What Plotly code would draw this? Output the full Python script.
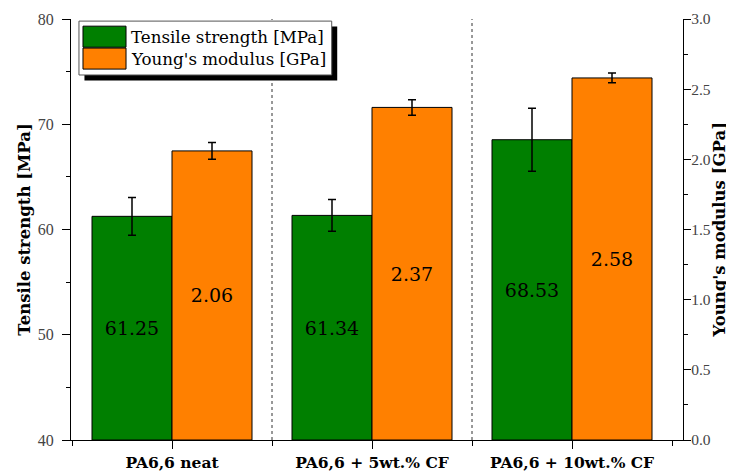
import plotly.graph_objects as go

categories = ["PA6,6 neat", "PA6,6 + 5wt.% CF", "PA6,6 + 10wt.% CF"]
tensile = [61.25, 61.34, 68.53]
tensile_err = [1.8, 1.5, 3.0]
modulus = [2.06, 2.37, 2.58]
modulus_err = [0.06, 0.055, 0.035]
series_names = ["Tensile strength [MPa]", "Young's modulus [GPa]"]
axis_titles = ["Tensile strength [MPa]", "Young's modulus [GPa]"]
colors = ["#007f00", "#ff8000"]
y1_min, y1_max = 40, 80
y2_min, y2_max = 0, 3

FONT = "DejaVu Serif"
NUMFONT = "Liberation Serif"
xs = list(range(len(categories)))

fig = go.Figure()
fig.add_trace(go.Bar(
    x=xs, y=[v - y1_min for v in tensile], base=y1_min, name=series_names[0], offsetgroup="t",
    marker=dict(color=colors[0], line=dict(color="black", width=1)),
    error_y=dict(type="data", array=tensile_err, color="black", thickness=1.5, width=4),
    text=[f"{v:.2f}" for v in tensile], textposition="inside",
    insidetextanchor="middle", textangle=0,
    textfont=dict(family=FONT, size=19, color="black"), showlegend=False,
))
fig.add_trace(go.Bar(
    x=xs, y=modulus, name=series_names[1], offsetgroup="m", yaxis="y2",
    marker=dict(color=colors[1], line=dict(color="black", width=1)),
    error_y=dict(type="data", array=modulus_err, color="black", thickness=1.5, width=4),
    text=[f"{v:.2f}" for v in modulus], textposition="inside",
    insidetextanchor="middle", textangle=0,
    textfont=dict(family=FONT, size=19, color="black"), showlegend=False,
))

# separators between groups
for i in range(len(categories) - 1):
    fig.add_shape(type="line", xref="x", yref="paper", x0=i + 0.5, x1=i + 0.5,
                  y0=0, y1=1, line=dict(color="#333", width=1, dash="dot"), layer="below")

# custom legend
lx0, lx1, ly0, ly1 = 0.013, 0.426, 0.867, 0.995
fig.add_shape(type="rect", xref="paper", yref="paper", x0=lx0 + 0.009, x1=lx1 + 0.009,
              y0=ly0 - 0.013, y1=ly1 - 0.013, fillcolor="black", line=dict(width=0))
fig.add_shape(type="rect", xref="paper", yref="paper", x0=lx0, x1=lx1, y0=ly0, y1=ly1,
              fillcolor="white", line=dict(color="#555", width=1))
sw_y = [(0.933, 0.983), (0.881, 0.931)]
for (y0, y1), c, name in zip(sw_y, colors, series_names):
    fig.add_shape(type="rect", xref="paper", yref="paper", x0=0.0196, x1=0.0899,
                  y0=y0, y1=y1, fillcolor=c, line=dict(color="black", width=1))
    fig.add_annotation(xref="paper", yref="paper", x=0.095, y=(y0 + y1) / 2,
                       text=name, showarrow=False, xanchor="left", yanchor="middle",
                       font=dict(family=FONT, size=16.7, color="black"))

# right axis title (placed as rotated text next to the right axis labels)
fig.add_annotation(xref="paper", yref="paper", x=1.059, y=0.5, text=axis_titles[1],
                   textangle=-90, showarrow=False, xanchor="center", yanchor="middle",
                   font=dict(family=FONT, size=16.5, color="black", weight="bold"))

axis_common = dict(showline=True, linecolor="black", linewidth=1.2, ticks="outside",
                   tickcolor="black", showgrid=False, zeroline=False, automargin=False)

# page body has an 8px offset; size/margins compensate so the plot lands on the reference
fig.update_layout(
    width=726, height=465,
    margin=dict(l=63, r=51, t=11, b=33),
    plot_bgcolor="white", paper_bgcolor="white",
    barmode="group", bargap=0.2, bargroupgap=0,
    font=dict(family=FONT, color="#333"),
    uniformtext=dict(mode="show", minsize=8),
    xaxis=dict(**axis_common, range=[-0.505, 2.555], tickvals=xs, ticktext=categories,
               ticklen=8, tickfont=dict(family=FONT, size=15.5, color="black", weight="bold"),
               minor=dict(tickvals=[-0.5, 0.5, 1.5, 2.5], ticklen=5, ticks="outside",
                          tickcolor="black")),
    yaxis=dict(**axis_common, range=[y1_min, y1_max], dtick=10, ticklen=8,
               ticklabelstandoff=5,
               tickfont=dict(family=NUMFONT, size=16, color="#444"),
               minor=dict(dtick=5, ticklen=4, ticks="outside", tickcolor="black"),
               title=dict(text=axis_titles[0], standoff=2,
                          font=dict(family=FONT, size=16.5, color="black", weight="bold"))),
    yaxis2=dict(**axis_common, overlaying="y", side="right", range=[y2_min, y2_max], dtick=0.5,
                tickformat=".1f", ticklen=7, ticklabelstandoff=-3,
                tickfont=dict(family=NUMFONT, size=15.5, color="#444"),
                minor=dict(dtick=0.25, ticklen=4, ticks="outside", tickcolor="black")),
)

fig.write_html("out.html")
